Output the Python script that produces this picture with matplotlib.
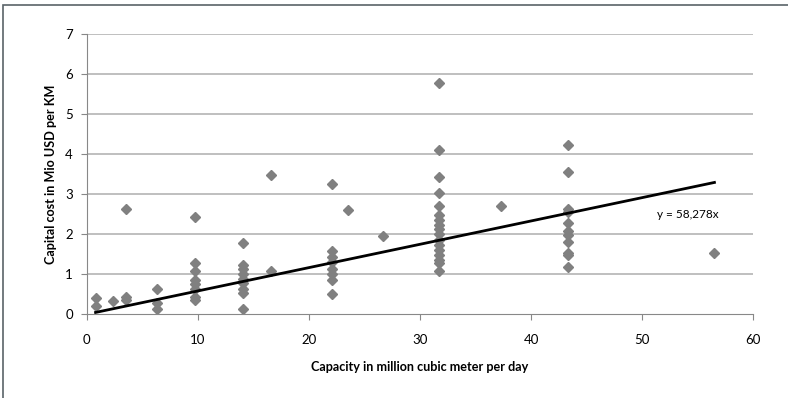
import numpy as np
import matplotlib.pyplot as plt
from matplotlib.patches import Rectangle

# capacidad (million m3/day) y costo (Mio USD per KM)
x_groups = [0.8, 2.4, 3.5, 6.3, 9.75, 14.1, 16.6, 22.05, 23.5, 26.7,
            31.7, 37.3, 43.3, 56.5]
y_groups = [
    [0.40, 0.20],
    [0.32],
    [2.62, 0.42, 0.35],
    [0.62, 0.28, 0.12],
    [2.42, 1.29, 1.07, 0.86, 0.76, 0.64, 0.42, 0.36],
    [1.79, 1.24, 1.14, 1.01, 0.89, 0.77, 0.64, 0.52, 0.12],
    [3.48, 1.07],
    [3.26, 1.58, 1.43, 1.30, 1.14, 1.01, 0.86, 0.50],
    [2.60],
    [1.95],
    [5.78, 4.10, 3.43, 3.03, 2.70, 2.49, 2.36, 2.24, 2.14, 2.01, 1.85,
     1.72, 1.60, 1.47, 1.35, 1.28, 1.08],
    [2.71],
    [4.23, 3.55, 2.64, 2.55, 2.28, 2.09, 1.97, 1.80, 1.54, 1.47, 1.18],
    [1.54],
]
slope = 0.058278
trend_label = "y = 58,278x"

x = np.concatenate([[xv] * len(ys) for xv, ys in zip(x_groups, y_groups)])
y = np.concatenate(y_groups)

plt.rcParams['font.family'] = ['Lato', 'DejaVu Sans']

fig = plt.figure(figsize=(7.88, 3.98), dpi=100)
ax = fig.add_axes([0.110, 0.2103, 0.846, 0.7043])

# borde del area del grafico (solo se ve arriba e izquierda)
fig.patches.append(Rectangle((3 / 788, -0.1), 1.2, 1 - 5 / 398 + 0.1,
                             transform=fig.transFigure, fill=False,
                             edgecolor='#5a6468', linewidth=1.2))

for v in range(1, 8):
    ax.axhline(v, color='#b4b4b4', linewidth=1.2, zorder=0)

ax.plot(x, y, linestyle='none', marker='D', markersize=5.2,
        color='#808080', zorder=2)

xl = np.array([x.min(), x.max()])
ax.plot(xl, slope * xl, color='black', linewidth=2, zorder=3)
ax.text(51.3, 2.5, trend_label, fontsize=8.5, va='center', ha='left')

ax.set_xlim(0, 60)
ax.set_ylim(0, 7)
ax.set_xticks(range(0, 61, 10))
ax.set_yticks(range(0, 8))

for s in ['top', 'right']:
    ax.spines[s].set_visible(False)
for s in ['left', 'bottom']:
    ax.spines[s].set_color('#888888')
ax.tick_params(colors='#888888', labelcolor='black', labelsize=9.5,
               length=4, direction='out')
ax.tick_params(axis='x', pad=10)
ax.tick_params(axis='y', pad=6)

ax.set_xlabel("Capacity in million cubic meter per day", fontweight='bold',
              fontsize=9.1, labelpad=11)
ax.set_ylabel("Capital cost in Mio USD per KM", fontweight='bold',
              fontsize=9.1, labelpad=6)

plt.savefig('out.png', dpi=100)
